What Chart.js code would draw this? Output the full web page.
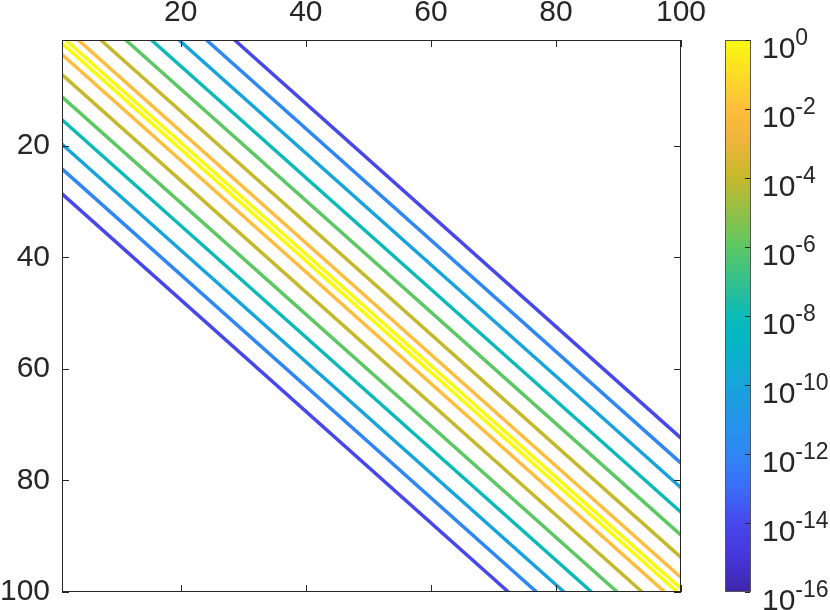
<!DOCTYPE html>
<html lang="en">
<head>
<meta charset="UTF-8">
<title>Banded matrix contour</title>
<script src="https://cdn.jsdelivr.net/npm/chart.js@4.4.1/dist/chart.umd.min.js"></script>
<style>
  html, body { margin: 0; padding: 0; background: #fff; }
  #wrap { width: 830px; height: 610px; }
</style>
</head>
<body>
<div id="wrap"><canvas id="contourChart" width="830" height="610"></canvas></div>
<script>
// contour levels (log10 of the entry) and the distance of each
// contour line from the main diagonal (same above and below)
const levelExps = [0, -2, -4, -6, -8, -10, -12, -14];
const diagOffsets = [0.6, 2.6, 6.2, 10.2, 14.3, 18.7, 23.1, 27.6];
const matSize = 100;

const xTicks = [20, 40, 60, 80, 100];
const yTicks = [20, 40, 60, 80, 100];
const cbTickExps = [0, -2, -4, -6, -8, -10, -12, -14, -16];
const cbMinExp = -16;
const cbMaxExp = 0;

// parula colormap anchors
const parulaPos = [0, 0.06, 0.125, 0.19, 0.25, 0.375, 0.46, 0.5, 0.625, 0.75, 0.82, 0.875, 1];
const parulaHex = ['#3e26a8', '#4535d8', '#4747eb', '#3b6ef8', '#2f86f5', '#17a4dc', '#03b7c4', '#0bbab8', '#5cc863', '#c5b92b', '#f0b43c', '#febd3c', '#f9fb0e'];

const axisColor = '#262626';
const fontFamily = '"Liberation Sans", Helvetica, Arial, sans-serif';

function hexToRgb(h) {
    return [1, 3, 5].map(i => parseInt(h.substr(i, 2), 16));
}

function parula(t) {
    t = Math.min(1, Math.max(0, t));
    for (let i = 1; i < parulaPos.length; i++) {
        if (t <= parulaPos[i]) {
            const f = (t - parulaPos[i - 1]) / (parulaPos[i] - parulaPos[i - 1]);
            const a = hexToRgb(parulaHex[i - 1]), b = hexToRgb(parulaHex[i]);
            const c = a.map((v, k) => Math.round(v + (b[k] - v) * f));
            return `rgb(${c[0]},${c[1]},${c[2]})`;
        }
    }
    return parulaHex[parulaHex.length - 1];
}

function levelColor(e) {
    return parula((e - cbMinExp) / (cbMaxExp - cbMinExp));
}

// one dataset per contour line, clipped to the 1..100 box
const datasets = [];
levelExps.forEach((e, i) => {
    const d = diagOffsets[i];
    const color = levelColor(e);
    datasets.push({
        label: 'upper ' + e,
        data: [{x: 1 + d, y: 1}, {x: matSize, y: matSize - d}],
        borderColor: color
    });
    datasets.push({
        label: 'lower ' + e,
        data: [{x: 1, y: 1 + d}, {x: matSize - d, y: matSize}],
        borderColor: color
    });
});

const framePlugin = {
    id: 'frame',
    afterDatasetsDraw(chart) {
        const {ctx, chartArea: a, scales} = chart;
        ctx.save();
        ctx.strokeStyle = axisColor;
        ctx.lineWidth = 1;
        ctx.strokeRect(a.left + 0.5, a.top + 0.5, a.right - a.left - 1, a.bottom - a.top - 1);

        // inward ticks on all four sides
        ctx.beginPath();
        xTicks.forEach(v => {
            const px = Math.round(scales.x.getPixelForValue(v)) + 0.5;
            ctx.moveTo(px, a.top); ctx.lineTo(px, a.top + 7);
            ctx.moveTo(px, a.bottom); ctx.lineTo(px, a.bottom - 7);
        });
        yTicks.forEach(v => {
            const py = Math.round(scales.y.getPixelForValue(v)) + 0.5;
            ctx.moveTo(a.left, py); ctx.lineTo(a.left + 7, py);
            ctx.moveTo(a.right, py); ctx.lineTo(a.right - 7, py);
        });
        ctx.stroke();

        // colorbar
        const cb = scales.cb;
        const cbLeft = 725, cbRight = 751;
        const top = cb.getPixelForValue(Math.pow(10, cbMaxExp));
        const bottom = cb.getPixelForValue(Math.pow(10, cbMinExp));
        const grad = ctx.createLinearGradient(0, bottom, 0, top);
        parulaPos.forEach((p, i) => grad.addColorStop(p, parulaHex[i]));
        ctx.fillStyle = grad;
        ctx.fillRect(cbLeft, top, cbRight - cbLeft, bottom - top);
        ctx.strokeStyle = '#555555';
        ctx.strokeRect(cbLeft + 0.5, top + 0.5, cbRight - cbLeft - 1, bottom - top - 1);

        ctx.strokeStyle = axisColor;
        ctx.beginPath();
        cbTickExps.forEach(e => {
            const py = Math.round(cb.getPixelForValue(Math.pow(10, e))) + 0.5;
            ctx.moveTo(cbRight - 1, py); ctx.lineTo(cbRight - 6, py);
        });
        ctx.stroke();

        ctx.fillStyle = axisColor;
        ctx.textBaseline = 'alphabetic';
        ctx.textAlign = 'left';
        cbTickExps.forEach(e => {
            const py = cb.getPixelForValue(Math.pow(10, e));
            ctx.font = '30px ' + fontFamily;
            ctx.fillText('10', 762, py + 18);
            const w = ctx.measureText('10').width;
            ctx.font = '23px ' + fontFamily;
            ctx.fillText(String(e), 762 + w, py + 5);
        });
        ctx.restore();
    }
};

const tickFont = {family: fontFamily, size: 30};

new Chart(document.getElementById('contourChart'), {
    type: 'scatter',
    data: {datasets: datasets},
    options: {
        responsive: false,
        animation: false,
        devicePixelRatio: 1,
        layout: {padding: {left: 0, top: 0, right: 149, bottom: 18}},
        elements: {
            point: {radius: 0, hoverRadius: 0},
            line: {borderWidth: 3.5, tension: 0}
        },
        datasets: {scatter: {showLine: true}},
        plugins: {legend: {display: false}, tooltip: {enabled: false}},
        scales: {
            x: {
                type: 'linear',
                position: 'top',
                min: 1,
                max: matSize,
                afterBuildTicks: s => { s.ticks = xTicks.map(v => ({value: v})); },
                afterFit: s => { s.height = 40; s.paddingLeft = 0; s.paddingRight = 0; },
                grid: {display: false, drawTicks: false},
                border: {display: false},
                ticks: {font: tickFont, color: axisColor, padding: 9, maxRotation: 0, autoSkip: false}
            },
            y: {
                type: 'linear',
                position: 'left',
                reverse: true,
                min: 1,
                max: matSize,
                afterBuildTicks: s => { s.ticks = yTicks.map(v => ({value: v})); },
                afterFit: s => { s.width = 62; s.paddingTop = 0; s.paddingBottom = 0; },
                grid: {display: false, drawTicks: false},
                border: {display: false},
                ticks: {font: tickFont, color: axisColor, padding: 12, autoSkip: false}
            },
            cb: {
                type: 'logarithmic',
                position: 'right',
                display: false,
                min: Math.pow(10, cbMinExp),
                max: Math.pow(10, cbMaxExp)
            }
        }
    },
    plugins: [framePlugin]
});
</script>
</body>
</html>
